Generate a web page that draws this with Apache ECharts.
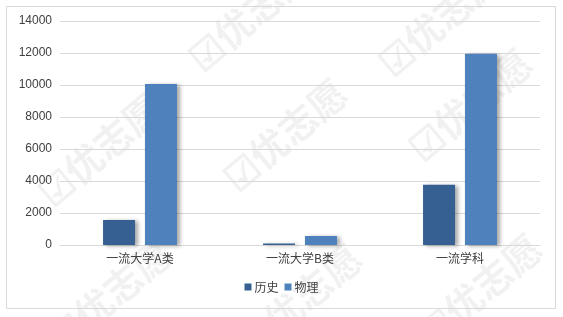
<!doctype html>
<html lang="zh">
<head>
  <meta charset="UTF-8">
  <title>一流大学 历史 物理</title>
  <style>
    html, body { margin: 0; padding: 0; background: #fff; }
  </style>
</head>
<body>
<div id="main" style="width: 563px;height: 317px"></div>
<script src="https://cdn.jsdelivr.net/npm/echarts@6/dist/echarts.min.js"></script>
<script>
    // data
    var categories = ['一流大学A类', '一流大学B类', '一流学科'];
    var lishi = [1560, 100, 3770];
    var wuli = [10060, 560, 11950];
    var yTicks = [0, 2000, 4000, 6000, 8000, 10000, 12000, 14000];

    // faint watermark spots
    var marks = [[100, 150], [285, 135], [470, 105], [250, 15], [440, 20], [110, 295], [300, 300], [480, 290]];

    var myCharts = echarts.init(document.querySelector('#main'));
    var font = '"Noto Sans CJK SC", "Liberation Sans", sans-serif';

    var graphics = [{
        type: 'rect',
        shape: {x: 6.5, y: 6.5, width: 549, height: 302},
        style: {fill: 'none', stroke: '#d9d9d9', lineWidth: 1},
        z: 0
    }];
    marks.forEach(function (p) {
        graphics.push({
            type: 'text',
            x: p[0], y: p[1],
            rotation: Math.PI * 40 / 180,
            style: {
                text: '☑优志愿',
                fill: 'rgba(0,0,0,0.055)',
                font: 'bold 38px ' + font,
                align: 'center',
                verticalAlign: 'middle'
            },
            z: -1,
            silent: true
        });
    });

    var shadow = {
        shadowColor: 'rgba(0,0,0,0.35)',
        shadowBlur: 4,
        shadowOffsetX: 3,
        shadowOffsetY: 1
    };

    myCharts.setOption({
        animation: false,
        textStyle: {fontFamily: font},
        graphic: graphics,
        grid: {
            left: 60,
            right: 23,
            top: 21,
            bottom: 72
        },
        legend: {
            data: ['历史', '物理'],
            bottom: 19,
            left: 'center',
            itemWidth: 7,
            itemHeight: 7,
            itemGap: 6,
            icon: 'rect',
            textStyle: {fontSize: 12, color: '#404040', padding: [0, 0, 0, -2]}
        },
        xAxis: {
            type: 'category',
            data: categories,
            axisLine: {lineStyle: {color: '#d9d9d9'}},
            axisTick: {show: false},
            axisLabel: {color: '#404040', fontSize: 12, margin: 7}
        },
        yAxis: {
            type: 'value',
            min: yTicks[0],
            max: yTicks[yTicks.length - 1],
            interval: 2000,
            axisLine: {show: false},
            axisTick: {show: false},
            splitLine: {lineStyle: {color: '#d9d9d9'}},
            axisLabel: {
                color: '#404040',
                fontSize: 12,
                margin: 8,
                fontFamily: '"Liberation Sans", Arial, sans-serif',
                formatter: function (v) { return String(v); }
            }
        },
        series: [
            {
                name: '历史',
                type: 'bar',
                data: lishi,
                barWidth: 32,
                barGap: '31%',
                itemStyle: Object.assign({color: '#376092'}, shadow)
            },
            {
                name: '物理',
                type: 'bar',
                data: wuli,
                barWidth: 32,
                itemStyle: Object.assign({color: '#4f81bd'}, shadow)
            }
        ]
    });
</script>
</body>
</html>
